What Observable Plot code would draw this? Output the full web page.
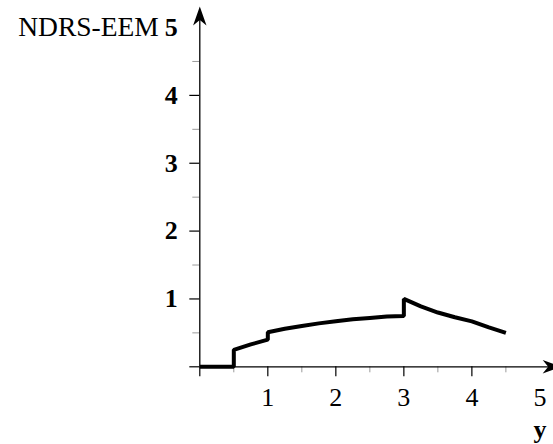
<!DOCTYPE html>
<html>
<head>
<meta charset="utf-8">
<script src="https://cdn.jsdelivr.net/npm/d3@7"></script>
<script src="https://cdn.jsdelivr.net/npm/@observablehq/plot@0.6"></script>
<style>
  html, body { margin: 0; padding: 0; background: #fff; }
</style>
</head>
<body>
<div id="chart"></div>
<script>
// Data
const xs = [0, 0.5, 0.5, 0.75, 1, 1, 1.25, 1.5, 1.75, 2, 2.25, 2.5, 2.75, 3, 3, 3.25, 3.5, 3.75, 4, 4.25, 4.5];
const ys = [0, 0, 0.25, 0.33, 0.40, 0.51, 0.56, 0.60, 0.64, 0.67, 0.70, 0.72, 0.74, 0.75, 1.0, 0.89, 0.80, 0.73, 0.67, 0.58, 0.50];
const majorTicks = [0, 1, 2, 3, 4];
const minorTicks = [0.5, 1.5, 2.5, 3.5, 4.5];
const tickLabels = [1, 2, 3, 4, 5];
const xLabel = "y";
const yLabel = "NDRS-EEM";
const xTip = 5.32;
const yTip = 5.31;

const series = xs.map((x, i) => ({x, y: ys[i]}));

// Stealth-style arrowhead pointing up, tip at origin
const stealth = {
  draw(ctx) {
    ctx.moveTo(0, 0);
    ctx.lineTo(6.7, 19);
    ctx.lineTo(0, 13.5);
    ctx.lineTo(-6.7, 19);
    ctx.closePath();
  }
};

const font = "Liberation Serif";
const fs = 26;

const chart = Plot.plot({
  width: 553,
  height: 444,
  marginLeft: 199.3,
  marginRight: 0,
  marginTop: 6,
  marginBottom: 77.7,
  style: {background: "#fff", fontFamily: font},
  x: {domain: [0, 5.2], axis: null},
  y: {domain: [0, yTip], axis: null},
  marks: [
    // minor ticks
    Plot.axisX(minorTicks, {anchor: "bottom", tickSize: 6, stroke: "#9a9a9a", strokeWidth: 1, fill: "none", label: null}),
    Plot.axisY(minorTicks, {anchor: "left", tickSize: 7, stroke: "#9a9a9a", strokeWidth: 1, fill: "none", label: null}),
    // major ticks
    Plot.axisX(majorTicks, {anchor: "bottom", tickSize: 10, stroke: "black", strokeWidth: 1.2, fill: "none", label: null}),
    Plot.axisY(majorTicks, {anchor: "left", tickSize: 10, stroke: "black", strokeWidth: 1.2, fill: "none", label: null}),
    // axis lines
    Plot.ruleY([0], {x1: 0, x2: xTip - 0.1, stroke: "black", strokeWidth: 1.3}),
    Plot.ruleX([0], {y1: 0, y2: yTip - 0.1, stroke: "black", strokeWidth: 1.3}),
    // arrowheads
    Plot.dot([{x: 0, y: yTip}], {x: "x", y: "y", symbol: stealth, fill: "black", stroke: "none", rotate: 0}),
    Plot.dot([{x: xTip, y: 0}], {x: "x", y: "y", symbol: stealth, fill: "black", stroke: "none", rotate: 90}),
    // tick labels
    Plot.text(tickLabels, {x: d => d, y: () => 0, text: d => String(d), dy: 31, fontSize: fs, fontFamily: font, fill: "black"}),
    Plot.text(tickLabels, {x: () => 0, y: d => d, text: d => String(d), dx: -22, textAnchor: "end", fontSize: fs, fontWeight: "bold", fontFamily: font, fill: "black"}),
    // axis labels
    Plot.text([yLabel], {x: () => 0, y: () => 5, text: d => d, dx: -41, textAnchor: "end", fontSize: 27.5, fontFamily: font, fill: "black"}),
    Plot.text([xLabel], {x: () => 5, y: () => 0, text: d => d, dy: 71, lineAnchor: "bottom", fontSize: fs, fontWeight: "bold", fontFamily: font, fill: "black"}),
    // data line
    Plot.line(series, {x: "x", y: "y", stroke: "black", strokeWidth: 4, strokeLinejoin: "miter", strokeLinecap: "butt", curve: "linear"})
  ]
});

document.getElementById("chart").appendChild(chart);
</script>
</body>
</html>
